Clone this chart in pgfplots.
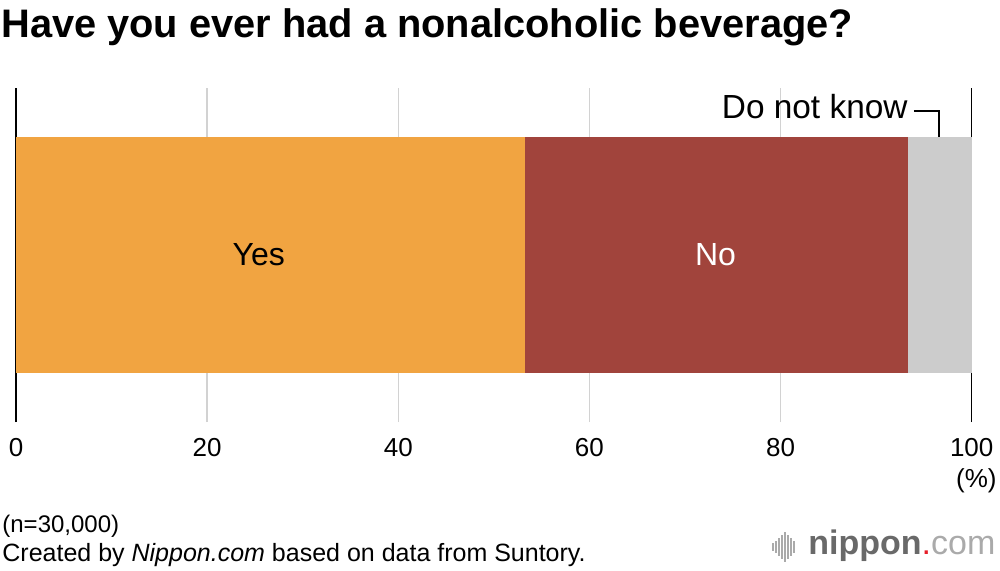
\documentclass[border=0pt]{standalone}
\usepackage{pgfplots}
\pgfplotsset{compat=1.18}
\usepackage{fontspec}
\setmainfont{Liberation Sans}
\definecolor{yesc}{RGB}{241,164,65}
\definecolor{noc}{RGB}{161,68,60}
\definecolor{dkc}{RGB}{204,204,204}
\definecolor{gridc}{RGB}{210,210,210}
\definecolor{logoc}{RGB}{105,105,105}
\definecolor{logol}{RGB}{170,170,170}
\definecolor{logor}{RGB}{230,30,40}
\begin{document}
\begin{tikzpicture}
\path[use as bounding box] (0,0) rectangle (500pt,-285pt);
\node[anchor=base west, inner sep=0, font=\bfseries\fontsize{19.9}{22}\selectfont] at (0.5pt,-18.5pt) {Have you ever had a nonalcoholic beverage?};
\begin{axis}[at={(8pt,-211pt)}, anchor=south west, scale only axis,
  width=477.85pt, height=167pt,
  xmin=0, xmax=100, ymin=-1, ymax=1,
  xbar stacked, bar width=118pt,
  xtick={0,20,...,100}, ytick=\empty,
  xmajorgrids, grid style={gridc, line width=0.75pt},
  separate axis lines,
  x axis line style={draw=none},
  y axis line style={black, line width=0.75pt},
  major tick length=0pt,
  xticklabel style={font=\fontsize{13}{15}\selectfont, yshift=-4.5pt},
  /pgf/number format/assume math mode=true,
  clip=false,
]
\addplot[fill=yesc, draw=none] coordinates {(53.3,0)};
\addplot[fill=noc, draw=none] coordinates {(40.0,0)};
\addplot[fill=dkc, draw=none] coordinates {(6.7,0)};
\coordinate (yeslab) at (axis cs:25.4,0);
\coordinate (nolab) at (axis cs:73.2,0);
\coordinate (dklab) at (axis cs:93.33,0.886);
\coordinate (l1) at (axis cs:93.96,0.862);
\coordinate (l2) at (axis cs:96.58,0.862);
\coordinate (l3) at (axis cs:96.58,0.7066);
\end{axis}
\node[font=\fontsize{16}{18}\selectfont] at (yeslab) {Yes};
\node[font=\fontsize{16}{18}\selectfont, text=white] at (nolab) {No};
\node[anchor=east, inner sep=0, font=\fontsize{16.7}{18}\selectfont] at (dklab) {Do not know};
\draw[black, line width=0.75pt] (l1) -- (l2) -- (l3);
\node[anchor=east, inner sep=0, font=\fontsize{13}{15}\selectfont] at (498.5pt,-240.5pt) {(\%)};
\node[anchor=base west, inner sep=0, font=\fontsize{12}{14}\selectfont] at (1pt,-266pt) {(n=30,000)};
\node[anchor=base west, inner sep=0, font=\fontsize{12.5}{14}\selectfont] at (1pt,-280.5pt) {Created by \textit{Nippon.com} based on data from Suntory.};
\foreach \i/\h in {0/2,1/3,2/4.5,3/6,4/7.5,5/6,6/4.5,7/3}{
  \draw[logol, line width=0.8pt] (386.5pt+\i*1.5pt,-273.5pt+\h pt) -- (386.5pt+\i*1.5pt,-273.5pt-\h pt);
}
\node[anchor=base west, inner sep=0, font=\fontsize{17}{19}\selectfont] at (404pt,-277pt) {\textcolor{logoc}{\textbf{nippon}}\textcolor{logor}{.}\textcolor{logol}{com}};
\end{tikzpicture}
\end{document}
